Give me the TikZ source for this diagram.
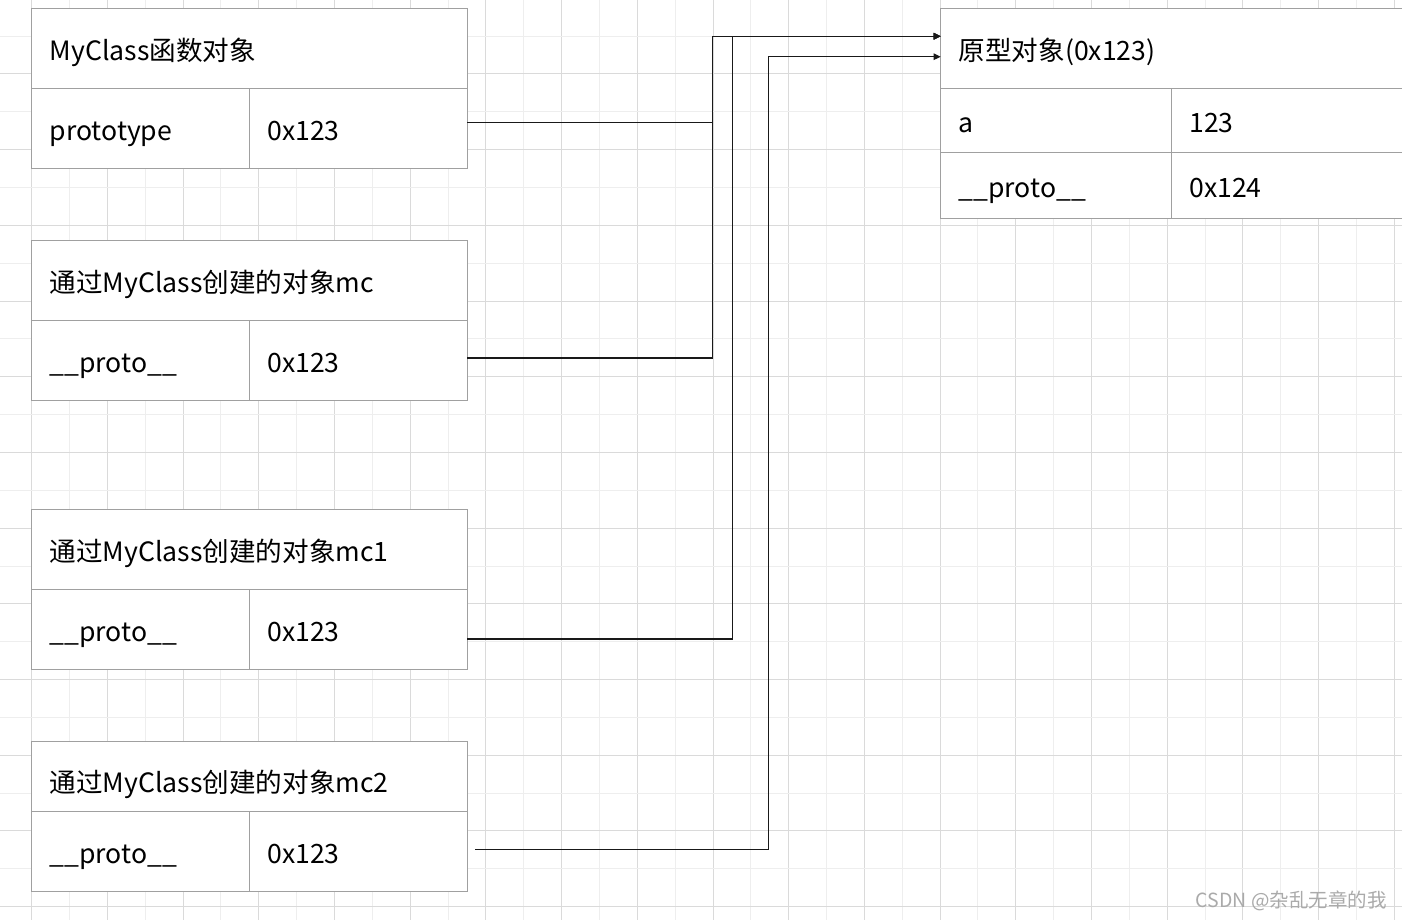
\documentclass[tikz,border=0pt]{standalone}
\usepackage{fontspec}
\setmainfont{Noto Sans CJK SC}
\usepackage{tikz}
\usetikzlibrary{arrows.meta,positioning}
\definecolor{cellgray}{RGB}{160,160,160}
\definecolor{gridlight}{RGB}{238,238,238}
\definecolor{griddark}{RGB}{218,218,218}
\definecolor{linkblack}{RGB}{25,25,25}
\definecolor{markgray}{RGB}{170,170,170}

\begin{document}
\begin{tikzpicture}[
    x=1pt, y=-1pt,
    cell/.style={rectangle, draw=cellgray, line width=1pt, fill=white, outer sep=0pt, inner xsep=18pt, inner ysep=0pt, align=left, text height=24pt, text depth=0pt, font=\fontsize{26.6}{30}\selectfont},
    head/.style={cell, text width=399.6pt, minimum height=80pt},
    keycell/.style={cell, text width=181.6pt, minimum height=80pt},
    valcell/.style={cell, text width=182pt, minimum height=80pt},
    link/.style={draw=linkblack, line width=1.3pt, -{Triangle[length=7pt, width=6.5pt]}}
]
    \useasboundingbox (0,0) rectangle (1402,920);
    \clip (0,0) rectangle (1402,920);
    \fill[white] (0,0) rectangle (1402,920);
    \foreach \k in {-1,...,36} {
        \pgfmathsetmacro{\gx}{31.7+37.85*\k}
        \ifodd\k \def\gc{gridlight}\else \def\gc{griddark}\fi
        \draw[\gc, line width=1pt] (\gx,0) -- (\gx,920);
    }
    \foreach \k in {-1,...,24} {
        \pgfmathsetmacro{\gy}{36.1+37.85*\k}
        \ifodd\k \def\gc{griddark}\else \def\gc{gridlight}\fi
        \draw[\gc, line width=1pt] (0,\gy) -- (1402,\gy);
    }

    \node[head, anchor=north west] (fn) at (31.7,8.3) {MyClass函数对象};
    \node[keycell, below right=0pt and 0pt of fn.south west] (fnkey) {prototype};
    \node[valcell, right=0pt of fnkey] (fnval) {0x123};

    \node[head, anchor=north west] (mc) at (31.7,240) {通过MyClass创建的对象mc};
    \node[keycell, below right=0pt and 0pt of mc.south west] (mckey) {\_\_proto\_\_};
    \node[valcell, right=0pt of mckey] (mcval) {0x123};

    \node[head, anchor=north west] (mcone) at (31.7,509.3) {通过MyClass创建的对象mc1};
    \node[keycell, below right=0pt and 0pt of mcone.south west] (mconekey) {\_\_proto\_\_};
    \node[valcell, right=0pt of mconekey] (mconeval) {0x123};

    \node[head, anchor=north west, minimum height=69.3pt, text height=33pt] (mctwo) at (31.7,741.7) {通过MyClass创建的对象mc2};
    \node[keycell, below right=0pt and 0pt of mctwo.south west] (mctwokey) {\_\_proto\_\_};
    \node[valcell, right=0pt of mctwokey] (mctwoval) {0x123};

    \node[cell, text width=464pt, minimum height=80pt, anchor=north west] (proto) at (940.7,8.3) {原型对象(0x123)};
    \node[cell, text width=194.6pt, minimum height=64pt, below right=0pt and 0pt of proto.south west] (akey) {a};
    \node[cell, text width=264pt, minimum height=64pt, right=0pt of akey] (aval) {123};
    \node[cell, text width=194.6pt, minimum height=66pt, below right=0pt and 0pt of akey.south west] (pkey) {\_\_proto\_\_};
    \node[cell, text width=264pt, minimum height=66pt, right=0pt of pkey] (pval) {0x124};

    \draw[link] ([yshift=6pt]fnval.east) -| (712.3,36.3) -- ([yshift=12pt]proto.west);
    \draw[link] ([yshift=2pt]mcval.east) -| (712.3,36.3) -- ([yshift=12pt]proto.west);
    \draw[link] ([yshift=-9.7pt]mconeval.east) -| (732.7,36.3) -- ([yshift=12pt]proto.west);
    \draw[link] ([xshift=8pt, yshift=1.7pt]mctwoval.east) -| (768.3,56.7) -- ([yshift=-8.4pt]proto.west);

    \node[anchor=east, text=markgray, font=\fontsize{19.5}{22}\selectfont, inner sep=0pt] (mark) at (1387,901) {CSDN @杂乱无章的我};
\end{tikzpicture}
\end{document}
